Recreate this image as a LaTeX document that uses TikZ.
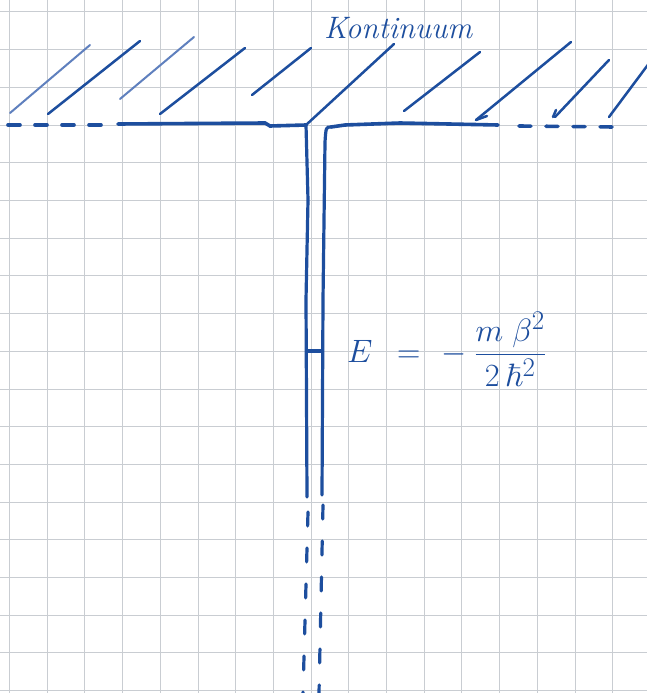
\documentclass[tikz,border=0pt]{standalone}
\usepackage{amsmath,amssymb}
\usepackage{graphicx}
\usepackage{tikz}
\usetikzlibrary{positioning}
\definecolor{ink}{HTML}{1D4E9E}
\definecolor{inklight}{HTML}{5F80BE}
\definecolor{gridgray}{HTML}{C9CDD2}
\tikzset{
  gridline/.style={draw=gridgray,line width=1pt},
  contline/.style={draw=ink,line width=3.6pt,line cap=round},
  contgap/.style={contline,dash pattern=on 12pt off 15pt},
  wall/.style={draw=ink,line width=3.2pt,line cap=round},
  wallgap/.style={wall,dash pattern=on 14pt off 22pt},
  hatch/.style={draw=ink,line width=2.5pt,line cap=round},
  hatchfaint/.style={draw=inklight,line width=2pt,line cap=round},
  handtext/.style={text=ink,inner sep=0pt}
}

\begin{document}
\begin{tikzpicture}[x=1pt,y=-1pt]
    \path[use as bounding box,fill=white] (0,0) rectangle (647,693);

    \begin{scope}
      \clip (0,0) rectangle (647,693);
      \foreach \i in {0,...,17}
        \draw[gridline] (9.5+37.7*\i,0) -- (9.5+37.7*\i,693);
      \foreach \j in {0,...,18}
        \draw[gridline] (0,12+37.7*\j) -- (647,12+37.7*\j);
    \end{scope}

    \coordinate (jl) at (306,125);
    \coordinate (jr) at (331,127);
    \coordinate (bl) at (307,497);
    \coordinate (br) at (322,495);

    \draw[hatchfaint] (10,113) -- (90,45);
    \draw[hatch] (48,114) -- (140,41);
    \draw[hatchfaint] (120,99) -- (194,37);
    \draw[hatch] (160,114) -- (245,48);
    \draw[hatch] (252,95) -- (311,48);
    \draw[hatch] (jl) -- (394,44);
    \draw[hatch] (404,111) -- (480,52);
    \draw[hatch] (476,120) -- (571,42);
    \draw[hatch] (476,120) -- (487,116);
    \draw[hatch] (555,117) -- (609,60);
    \draw[hatch] (553,117) -- (556,110);
    \draw[hatch] (609,117) -- (650,62);

    \draw[contgap] (8,125) -- (104,125);
    \draw[contline] (118,124) -- (265,123) -- (270,126) -- (jl);
    \draw[contline] (jr) -- (345,125) -- (400,123) -- (498,125);
    \draw[contgap] (519,126) -- (614,127);

    \draw[wall] (jl) -- (308,200) -- (306,300) -- (bl);
    \draw[wall] (jr) .. controls (326,127) .. (325,142) -- (323,300) -- (br);
    \draw[wall] (308,351) -- (322,351);

    \draw[wallgap] (308,512) -- (303,693);
    \draw[wallgap] (323,505) -- (319,693);

    \node[handtext,font=\fontsize{31}{31}\selectfont\itshape,anchor=base west]
      (kont) at (324,39) {Kontinuum};
    \node[handtext,font=\fontsize{24.88}{30}\selectfont,anchor=west]
      (energy) at (347,349)
      {\scalebox{1.3}{$E\hspace{12pt}=\hspace{9pt}-\hspace{6pt}\dfrac{m\;\beta^2}{2\,\hbar^2}$}};
  \end{tikzpicture}
\end{document}
